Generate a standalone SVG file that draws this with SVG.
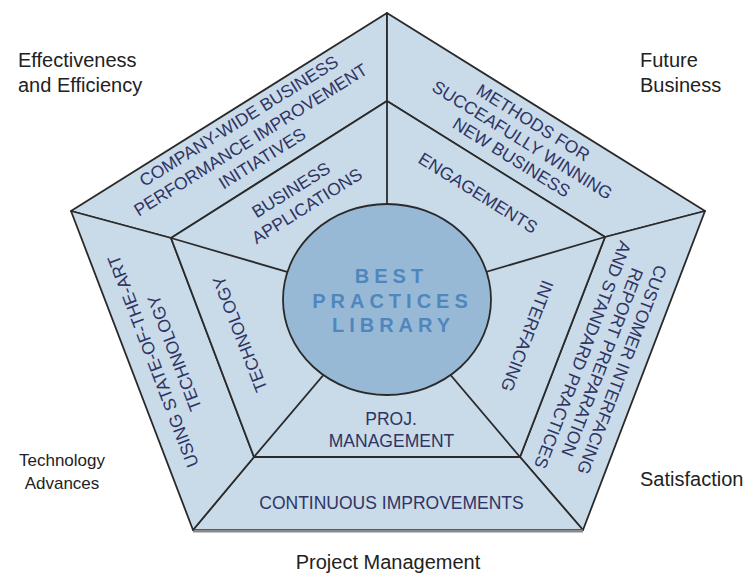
<svg xmlns="http://www.w3.org/2000/svg" width="746" height="574" viewBox="0 0 746 574">
<style>
.band{fill:#c9dae9;stroke:#2a2a2a;stroke-width:1.8;stroke-linejoin:round}
.ln{stroke:#2a2a2a;stroke-width:1.8;fill:none}
.t{font-family:"Liberation Sans",Arial,sans-serif;font-size:17.5px;fill:#2f3464;text-anchor:middle}
.lab{font-family:"Liberation Sans",Arial,sans-serif;font-size:20px;fill:#222}
.core{font-family:"Liberation Sans",Arial,sans-serif;font-size:20px;font-weight:bold;fill:#4f87bd;text-anchor:middle;letter-spacing:5px}
</style>
<rect width="746" height="574" fill="#fff"/>
<g id="band-top-left">
<polygon class="band" points="71,211 387,13 387,101 171,238"/>
<g transform="translate(252.1,142.3) rotate(-32)">
<text class="t" x="0" y="-19">COMPANY-WIDE BUSINESS</text>
<text class="t" x="0" y="3">PERFORMANCE IMPROVEMENT</text>
<text class="t" x="0" y="25">INITIATIVES</text>
</g>
</g>
<g id="band-top-right">
<polygon class="band" points="387,13 705,211 605,237 387,101"/>
<g transform="translate(521.8,140.9) rotate(31.9)">
<text class="t" x="0" y="-15.5">METHODS FOR</text>
<text class="t" x="0" y="5">SUCCEAFULLY WINNING</text>
<text class="t" x="0" y="25.5">NEW BUSINESS</text>
</g>
</g>
<g id="band-right">
<polygon class="band" points="705,211 583,530 520,457 605,237"/>
<g transform="translate(602.3,362.3) rotate(110.9)">
<text class="t" x="0" y="-15">CUSTOMER INTERFACING</text>
<text class="t" x="0" y="6">REPORT PREPARATION</text>
<text class="t" x="0" y="27">AND STANDARD PRACTICES</text>
</g>
</g>
<g id="band-bottom">
<polygon class="band" points="583,530 193,530 254,457 520,457"/>
<line x1="193" y1="531" x2="583" y2="531" stroke="#8a8a8a" stroke-width="3"/>
<text class="t" x="391.5" y="509">CONTINUOUS IMPROVEMENTS</text>
</g>
<g id="band-left">
<polygon class="band" points="193,530 71,211 171,238 254,457"/>
<g transform="translate(163.8,357.1) rotate(-110.9)">
<text class="t" x="0" y="-5.4">USING STATE-OF-THE-ART</text>
<text class="t" x="0" y="17.6">TECHNOLOGY</text>
</g>
</g>
<g id="inner-pentagon">
<polygon class="band" points="387,101 605,237 520,457 254,457 171,238"/>
</g>
<g id="connectors">
<line class="ln" x1="387" y1="101" x2="387" y2="300"/>
<line class="ln" x1="171" y1="238" x2="387" y2="301"/>
<line class="ln" x1="605" y1="237" x2="387" y2="301"/>
<line class="ln" x1="254" y1="457" x2="387" y2="300"/>
<line class="ln" x1="520" y1="457" x2="387" y2="300"/>
</g>
<g id="sector-business-applications" transform="translate(291,190) rotate(-32)">
<text class="t" x="0" y="6">BUSINESS</text>
<text class="t" x="5" y="28">APPLICATIONS</text>
</g>
<g id="sector-engagements" transform="translate(478,193) rotate(32)">
<text class="t" x="0" y="6">ENGAGEMENTS</text>
</g>
<g id="sector-interfacing" transform="translate(527,336) rotate(110.9)">
<text class="t" x="0" y="6">INTERFACING</text>
</g>
<g id="sector-proj-management">
<text class="t" x="391" y="425">PROJ.</text>
<text class="t" x="391.5" y="447">MANAGEMENT</text>
</g>
<g id="sector-technology" transform="translate(240,334) rotate(-111.2)">
<text class="t" x="0" y="6">TECHNOLOGY</text>
</g>
<g id="best-practices-library">
<ellipse cx="387" cy="299.5" rx="104" ry="95.5" fill="#98b9d6" stroke="#2a2a2a" stroke-width="1.8"/>
<text class="core" x="391.5" y="283">BEST</text>
<text class="core" x="392.5" y="308">PRACTICES</text>
<text class="core" x="393.5" y="332">LIBRARY</text>
</g>
<g id="outer-labels">
<text class="lab" x="18" y="67">Effectiveness</text>
<text class="lab" x="18" y="92">and Efficiency</text>
<text class="lab" x="640" y="67">Future</text>
<text class="lab" x="640" y="92">Business</text>
<text class="lab" x="62" y="466" style="font-size:17px;text-anchor:middle">Technology</text>
<text class="lab" x="62" y="489" style="font-size:17px;text-anchor:middle">Advances</text>
<text class="lab" x="640" y="486">Satisfaction</text>
<text class="lab" x="388" y="569" style="text-anchor:middle">Project Management</text>
</g>
</svg>
